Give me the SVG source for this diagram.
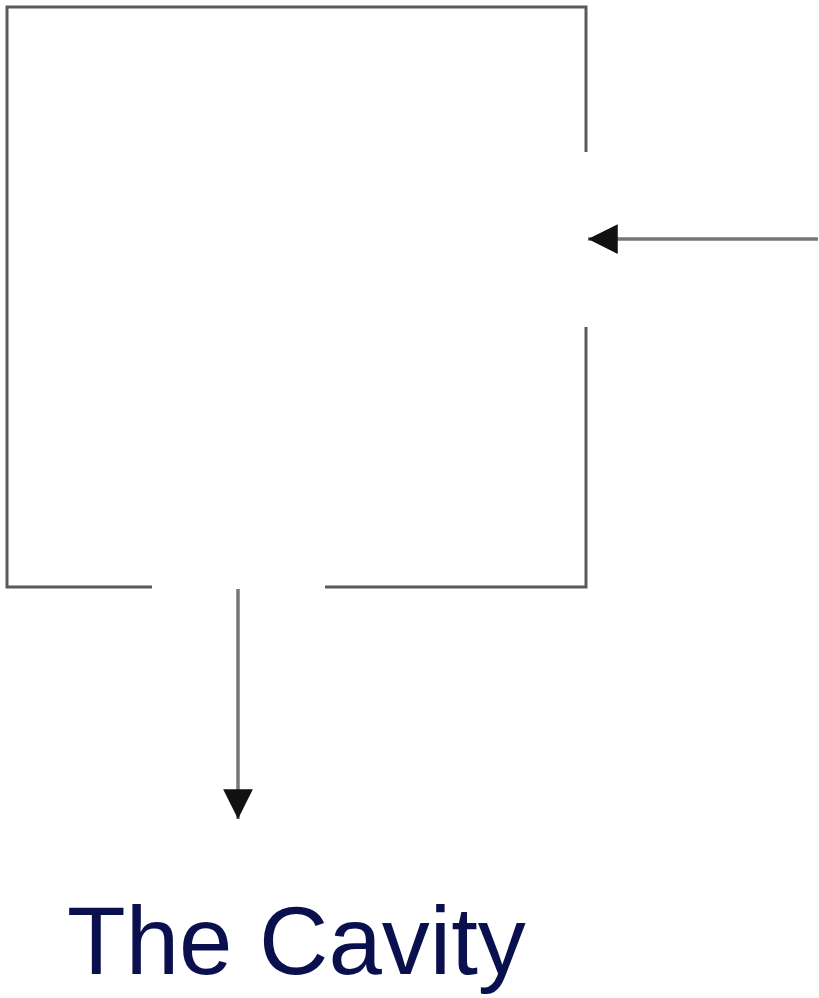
<svg xmlns="http://www.w3.org/2000/svg" width="819" height="998" viewBox="0 0 819 998">
<style>
.wall{fill:none;stroke:#5a5a5a;stroke-width:3;stroke-linecap:butt}
.conn{fill:none;stroke:#777;stroke-width:3.5}
.label{font-family:"Liberation Sans",Arial,sans-serif;font-size:96px;fill:#0a0f4e}
</style>
<defs>
<marker id="ah" viewBox="0 0 10 10" refX="10" refY="5" markerWidth="8.5" markerHeight="8.5" markerUnits="strokeWidth" orient="auto">
<path d="M0,0 L10,5 L0,10 Z" fill="#111"/>
</marker>
</defs>
<rect width="819" height="998" fill="#fff"/>
<g id="cavity">
<path class="wall" d="M586,152 L586,7 L7,7 L7,587 L152,587"/>
<path class="wall" d="M325,587 L586,587 L586,327"/>
</g>
<g id="connectors">
<line class="conn" x1="818" y1="239" x2="588" y2="239" marker-end="url(#ah)"/>
<line class="conn" x1="238" y1="589" x2="238" y2="819" marker-end="url(#ah)"/>
</g>
<g id="title">
<text class="label" x="67" y="974">The Cavity</text>
</g>
</svg>
